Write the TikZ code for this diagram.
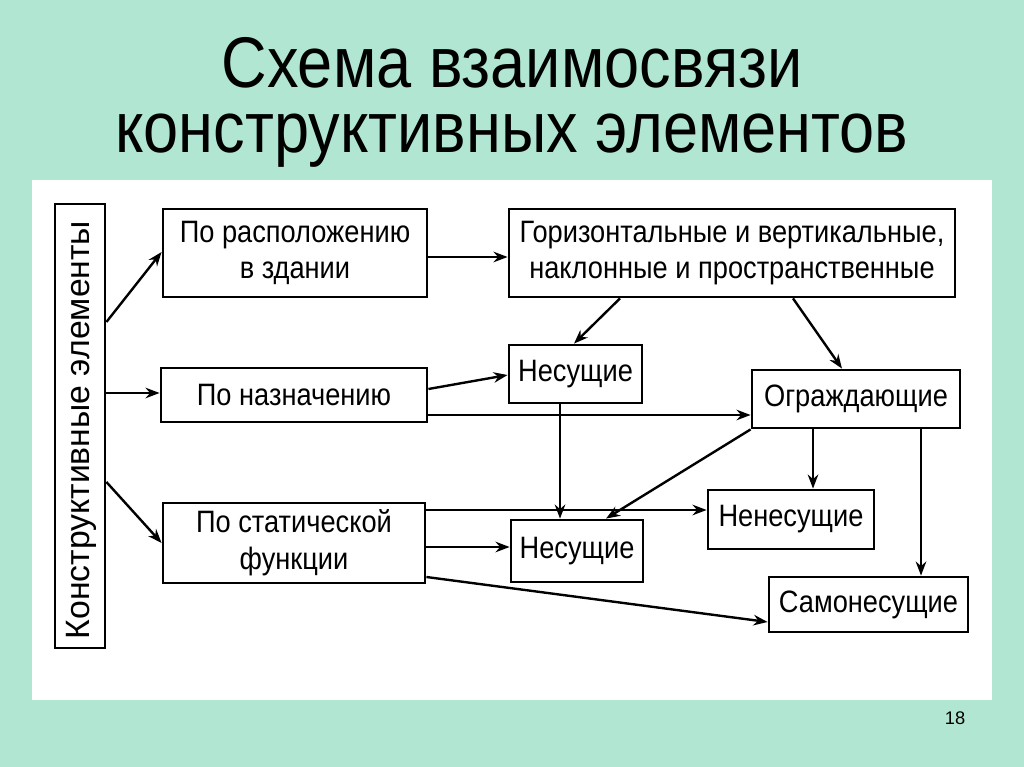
\documentclass[tikz,border=0pt]{standalone}
\usepackage{fontspec}
\setmainfont{Liberation Sans}
\newfontfamily\boxfont{Liberation Sans}[FakeStretch=0.88]
\usetikzlibrary{arrows.meta,calc}
\definecolor{mint}{RGB}{176,230,210}
\newcommand\pxu{0.025cm}
\tikzset{
  box/.style={draw=black, line width=2pt, fill=white, inner sep=0pt, font=\boxfont\fontsize{22}{26}\selectfont, align=center},
  bw/.style={minimum width=#1*\pxu},
  bh/.style={minimum height=#1*\pxu},
  conn/.style={line width=1.7pt, -{Stealth[length=10pt,width=7.5pt]}},
  title/.style={font=\boxfont\fontsize{51}{56}\selectfont, anchor=base},
}
\begin{document}
\begin{tikzpicture}[x=0.025cm,y=-0.025cm]
\useasboundingbox (0,0) rectangle (1024,767);
\fill[mint] (0,0) rectangle (1024,767);
\fill[white] (32,180) rectangle (992,700);
\node[title] (t1) at (512,88) {Схема взаимосвязи};
\node[title] (t2) at (512,153) {конструктивных элементов};
\node[font=\fontsize{13}{15}\selectfont] (pg) at (955,718) {18};

\node[box, bw=50, bh=444] (left) at (80,426) {};
\node[font=\fontsize{24}{26}\selectfont, rotate=90] (lt) at (81,430) {Конструктивные элементы};
\node[box, bw=264, bh=88] (pr) at (295,253) {По расположению\\в здании};
\node[box, bw=266, bh=54] (pn) at (294,395) {По назначению};
\node[box, bw=262, bh=80] (ps) at (294,543) {По статической\\функции};
\node[box, bw=446, bh=88] (gor) at (732,253) {Горизонтальные и вертикальные,\\наклонные и пространственные};
\node[box, bw=133, bh=58] (nes1) at (575.5,374) {Несущие};
\node[box, bw=208, bh=58] (ogr) at (856,399) {Ограждающие};
\node[box, bw=132, bh=62] (nes2) at (577,551) {Несущие};
\node[box, bw=166, bh=59] (nen) at (791,519.5) {Ненесущие};
\node[box, bw=199, bh=55] (sam) at (868.5,604.5) {Самонесущие};

\draw[conn] (left.east |- 0,322) -- (pr.west |- 0,252);
\draw[conn] (left.east |- 0,393) -- (pn.west |- 0,393);
\draw[conn] (left.east |- 0,482) -- (ps.west |- 0,543);
\draw[conn] (pr.east |- 0,257) -- (gor.west |- 0,257);
\draw[conn] (pn.east |- 0,389) -- (nes1.west |- 0,375);
\draw[conn] (pn.east |- 0,415) -- (ogr.west |- 0,415);
\draw[conn] (gor.south -| 620,0) -- (nes1.north -| 574,0);
\draw[conn] (gor.south -| 793,0) -- (ogr.north -| 842,0);
\draw[conn] (nes1.south -| 560,0) -- (nes2.north -| 560,0);
\draw[conn] (ogr.south west) -- (nes2.north -| 606,0);
\draw[conn] (ogr.south -| 813,0) -- (nen.north -| 813,0);
\draw[conn] (ogr.south -| 921,0) -- (sam.north -| 921,0);
\draw[conn] (ps.east |- 0,510) -- (nen.west |- 0,510);
\draw[conn] (ps.east |- 0,547) -- (nes2.west |- 0,547);
\draw[conn] (ps.east |- 0,577) -- (sam.west |- 0,622);
\end{tikzpicture}
\end{document}
